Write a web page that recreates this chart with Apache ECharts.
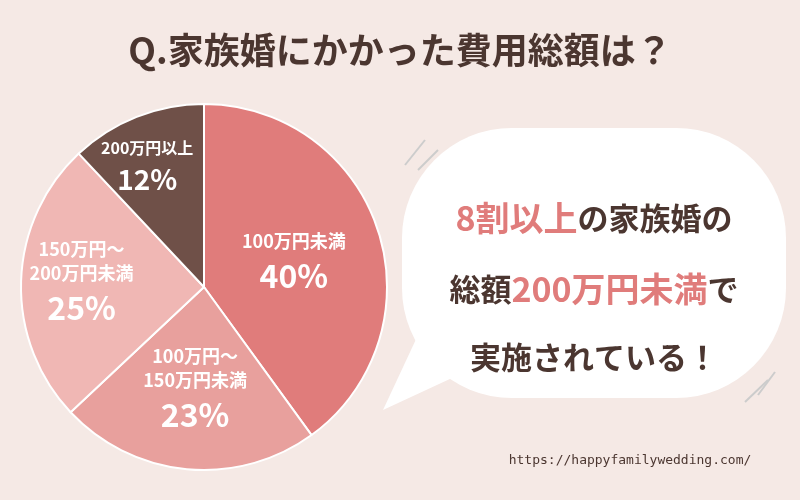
<!DOCTYPE html><html><head><meta charset="utf-8">
<script src="https://cdn.jsdelivr.net/npm/echarts@6/dist/echarts.min.js"></script>
<style>html,body{margin:0;background:#f5e9e5}#c{width:800px;height:500px}</style></head><body><div id="c"></div>
<script>
const categories=['100万円未満','100万円～\n150万円未満','150万円～\n200万円未満','200万円以上'];
const values=[40,23,25,12];
const colors=['#e07c7b','#e8a09d','#f0b7b4','#6f5048'];
const offsets=[[0,6],[0,10],[-28,0],[-22,-32]];
const chart=echarts.init(document.getElementById('c'));
const F='"Noto Sans CJK JP",sans-serif';
chart.setOption({
 backgroundColor:'#f5e9e5',
 title:{text:'Q.家族婚にかかった費用総額は？',left:'center',top:27,textStyle:{fontFamily:F,fontSize:36,fontWeight:'bold',color:'#4b3630'}},
 graphic:[
  {type:'rect',shape:{x:402,y:128,width:384,height:270,r:110},style:{fill:'#fff'}},
  {type:'polygon',shape:{points:[[425,320],[480,365],[383,410]]},style:{fill:'#fff'}},
  {type:'line',shape:{x1:405,y1:165,x2:425,y2:140},style:{stroke:'#ccc',lineWidth:2}},
  {type:'line',shape:{x1:418,y1:170,x2:438,y2:150},style:{stroke:'#ccc',lineWidth:2}},
  {type:'line',shape:{x1:758,y1:395,x2:775,y2:372},style:{stroke:'#ccc',lineWidth:2}},
  {type:'line',shape:{x1:745,y1:402,x2:768,y2:380},style:{stroke:'#ccc',lineWidth:2}},
  {type:'text',x:594,y:218,style:{text:'{p|8割以上}{d|の家族婚の}',align:'center',verticalAlign:'middle',rich:{p:{fontFamily:F,fontSize:34,fontWeight:'bold',fill:'#e07c7b'},d:{fontFamily:F,fontSize:31,fontWeight:'bold',fill:'#4b3630'}}}},
  {type:'text',x:594,y:289,style:{text:'{d|総額}{p|200万円未満}{d|で}',align:'center',verticalAlign:'middle',rich:{p:{fontFamily:F,fontSize:34,fontWeight:'bold',fill:'#e07c7b'},d:{fontFamily:F,fontSize:31,fontWeight:'bold',fill:'#4b3630'}}}},
  {type:'text',x:594,y:357,style:{text:'実施されている！',align:'center',verticalAlign:'middle',fontFamily:F,fontSize:31,fontWeight:'bold',fill:'#4b3630'}},
  {type:'text',x:630,y:461,style:{text:'https://happyfamilywedding.com/',align:'center',verticalAlign:'middle',fontFamily:'DejaVu Sans Mono',fontSize:13,fill:'#4b3630'}}
 ],
 series:[{type:'pie',center:[204,287],radius:[0,183],startAngle:90,clockwise:true,
  itemStyle:{borderColor:'#fff',borderWidth:2},
  label:{show:true,position:'inside',formatter:p=>'{n|'+p.name+'}\n{v|'+p.value+'%}',
   rich:{n:{fontFamily:F,fontSize:18,fontWeight:'bold',color:'#fff',lineHeight:24,align:'center'},v:{fontFamily:F,fontSize:32,fontWeight:'bold',color:'#fff',lineHeight:46,align:'center'}}},
  labelLayout:p=>({dx:offsets[p.dataIndex][0],dy:offsets[p.dataIndex][1]}),
  emphasis:{disabled:true},
  data:categories.map((c,i)=>({name:c,value:values[i],itemStyle:{color:colors[i]},
   label:i===3?{rich:{n:{fontSize:16,fontFamily:F,fontWeight:'bold',color:'#fff'},v:{fontSize:28,fontFamily:F,fontWeight:'bold',color:'#fff',lineHeight:38}}}:{}}))
 }]
});
</script></body></html>
